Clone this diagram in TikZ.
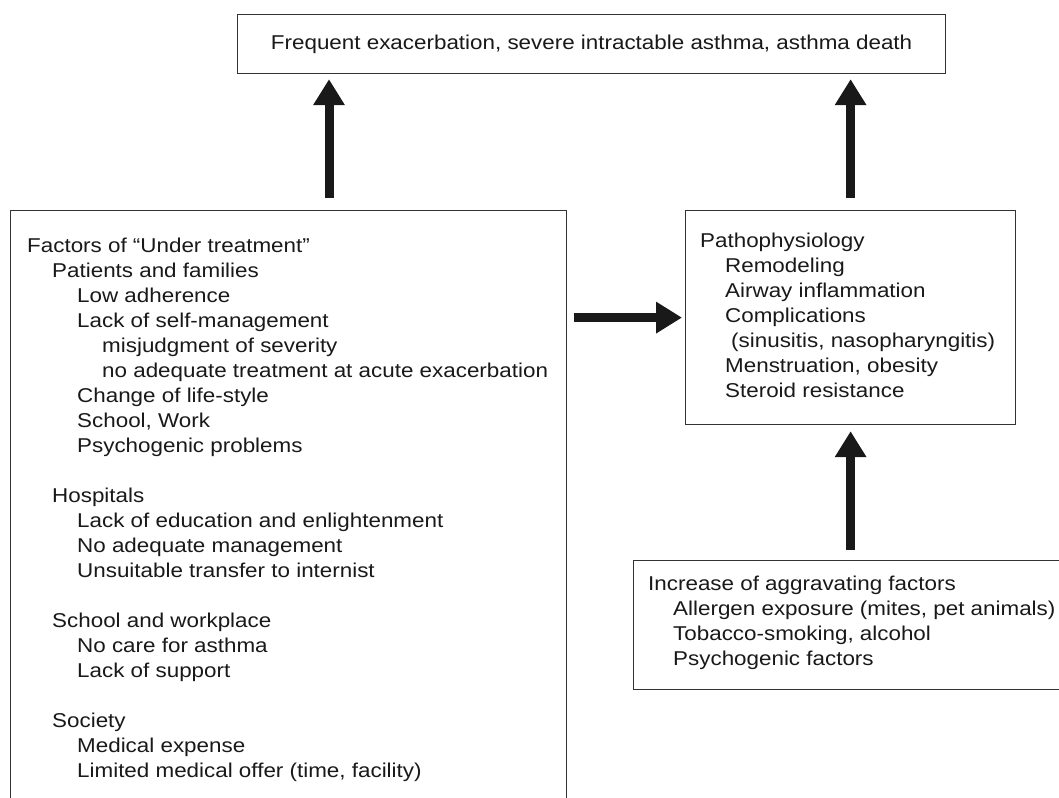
\documentclass[tikz,border=0pt]{standalone}
\usepackage{fontspec}
\setmainfont{Liberation Sans}[FakeStretch=1.12]
\usetikzlibrary{arrows.meta}
\begin{document}
\begin{tikzpicture}[x=1pt,y=-1pt,
  box/.style={draw=black!80, line width=1.2pt, inner sep=0pt, anchor=north west},
  txt/.style={anchor=north west, inner sep=0pt, align=left, font=\fontsize{20}{25}\selectfont, text=black!90},
  bigarrow/.style={line width=9pt, draw=black!90, -{Triangle[width=30pt,length=26pt]}}]
\useasboundingbox (0,0) rectangle (1059,797);
\clip (0,0) rectangle (1059,797);
\fill[white] (0,0) rectangle (1059,797);

% boxes
\node[box, minimum width=708pt, minimum height=59pt, font=\fontsize{20}{25}\selectfont, text=black!90] (top) at (237,14)
  {Frequent exacerbation, severe intractable asthma, asthma death};
\node[box, minimum width=556pt, minimum height=620pt] (under) at (10,210) {};
\node[box, minimum width=330pt, minimum height=214pt] (patho) at (685,210) {};
\node[box, minimum width=440pt, minimum height=129pt] (aggr) at (633,560) {};

% texts
\node[txt] (undertxt) at (27,237.5) {Factors of “Under treatment”\\
\hspace*{25pt}Patients and families\\
\hspace*{50pt}Low adherence\\
\hspace*{50pt}Lack of self-management\\
\hspace*{75pt}misjudgment of severity\\
\hspace*{75pt}no adequate treatment at acute exacerbation\\
\hspace*{50pt}Change of life-style\\
\hspace*{50pt}School, Work\\
\hspace*{50pt}Psychogenic problems\\[25pt]
\hspace*{25pt}Hospitals\\
\hspace*{50pt}Lack of education and enlightenment\\
\hspace*{50pt}No adequate management\\
\hspace*{50pt}Unsuitable transfer to internist\\[25pt]
\hspace*{25pt}School and workplace\\
\hspace*{50pt}No care for asthma\\
\hspace*{50pt}Lack of support\\[25pt]
\hspace*{25pt}Society\\
\hspace*{50pt}Medical expense\\
\hspace*{50pt}Limited medical offer (time, facility)};

\node[txt] (pathotxt) at (700,232.5) {Pathophysiology\\
\hspace*{25pt}Remodeling\\
\hspace*{25pt}Airway inflammation\\
\hspace*{25pt}Complications\\
\hspace*{31pt}(sinusitis, nasopharyngitis)\\
\hspace*{25pt}Menstruation, obesity\\
\hspace*{25pt}Steroid resistance};

\node[txt] (aggrtxt) at (648,575.5) {Increase of aggravating factors\\
\hspace*{25pt}Allergen exposure (mites, pet animals)\\
\hspace*{25pt}Tobacco-smoking, alcohol\\
\hspace*{25pt}Psychogenic factors};

% arrows
\coordinate (c1) at (329,0);
\draw[bigarrow, shorten <=12pt, shorten >=5pt] (under.north -| c1) -- (top.south -| c1);
\draw[bigarrow, shorten <=12pt, shorten >=5pt] (patho.north) -- (patho.north |- top.south);
\draw[bigarrow, shorten <=7pt, shorten >=3pt] (under.east |- patho.west) -- (patho.west);
\draw[bigarrow, shorten <=10pt, shorten >=6pt] (patho.south |- aggr.north) -- (patho.south);
\end{tikzpicture}
\end{document}
